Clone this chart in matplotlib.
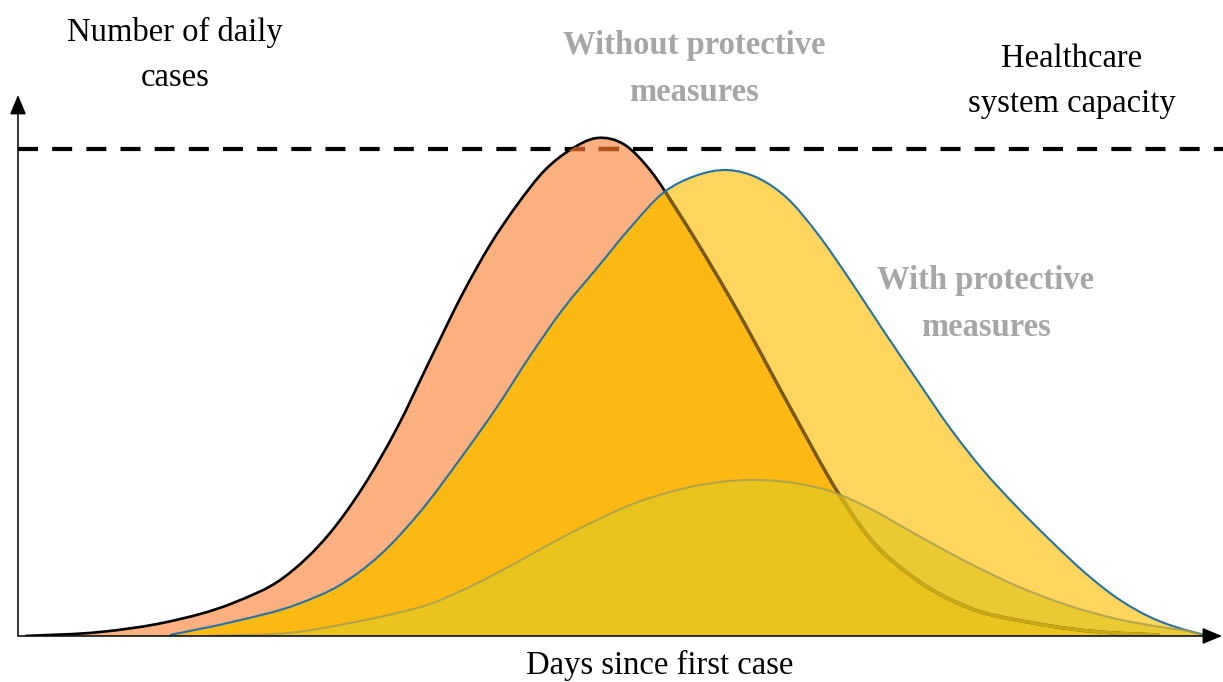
import numpy as np
import matplotlib
matplotlib.use("Agg")
import matplotlib.pyplot as plt
from matplotlib.path import Path
from matplotlib.patches import PathPatch

# curve without protective measures (days, daily cases)
no_days = [0.7, 8.2, 14.9, 21.5, 26.5, 31.2, 34.5, 37.9, 41.2, 44.5, 47.2, 49.9,
           52.7, 55.2, 57.9, 60.7, 63.2, 66.2, 71.5, 77.9, 81.9, 84.9, 89.9,
           94.9, 101.5, 108.2, 114.2]
no_cases = [0, 0.8, 2.8, 6.6, 11.6, 20.6, 29.8, 41.6, 55.2, 68.6, 78.2, 86.2,
            93.2, 97.2, 99.6, 98.2, 93.2, 84.2, 66.6, 43.2, 29.0, 20.2, 11.2,
            5.8, 2.6, 0.8, 0.2]

# curve with protective measures
with_days = [15.2, 21.4, 28.0, 32.2, 36.2, 40.2, 44.5, 47.9, 51.2, 54.5, 57.9, 61.2,
             64.5, 67.7, 70.9, 74.2, 76.9, 79.9, 83.2, 86.5, 89.9, 93.2, 96.5,
             99.9, 103.2, 106.5, 109.9, 113.2, 117.5, 119.2]
with_cases = [0.2, 2.8, 6.4, 10.2, 16.2, 24.8, 36.2, 45.8, 56.0, 65.4, 73.6, 81.6,
              88.6, 92.0, 93.2, 91.4, 87.6, 80.6, 71.2, 61.2, 51.2, 41.6, 33.2,
              25.8, 19.2, 13.0, 7.6, 3.8, 0.8, 0]

# flattened curve
flat_days = [18.9, 27.9, 33.2, 37.9, 41.2, 44.5, 47.9, 51.2, 54.5, 57.9, 61.2, 65.2,
             68.2, 72.9, 78.2, 81.5, 84.9, 89.9, 94.9, 99.9, 104.9, 109.9, 114.9,
             117.5, 118.7]
flat_cases = [0, 0.8, 2.6, 4.6, 6.4, 9.2, 12.6, 16.2, 19.8, 23.2, 26.2, 28.8,
              30.2, 31.2, 30.4, 28.8, 25.8, 20.2, 14.8, 10.0, 6.2, 3.4, 1.6,
              0.8, 0]

capacity = 97.4


def smooth_path(xs, ys, closed=False):
    # cubic Hermite through the points, written as Bezier segments
    x = np.asarray(xs, float)
    y = np.asarray(ys, float)
    h = np.diff(x)
    sec = np.diff(y) / h
    m = np.empty_like(y)
    m[0], m[-1] = sec[0], sec[-1]
    m[1:-1] = (sec[:-1] * h[1:] + sec[1:] * h[:-1]) / (h[:-1] + h[1:])
    verts = [(x[0], y[0])]
    codes = [Path.MOVETO]
    for i in range(len(x) - 1):
        d = h[i] / 3
        verts += [(x[i] + d, y[i] + m[i] * d), (x[i + 1] - d, y[i + 1] - m[i + 1] * d),
                  (x[i + 1], y[i + 1])]
        codes += [Path.CURVE4] * 3
    if closed:
        verts += [(x[-1], 0), (x[0], 0), (x[0], 0)]
        codes += [Path.LINETO, Path.LINETO, Path.CLOSEPOLY]
    return Path(verts, codes)


fig = plt.figure(figsize=(12.23, 6.82), dpi=100)
ax = fig.add_axes([18 / 1223, 46 / 682, 1205 / 1223, 636 / 682])
ax.set_xlim(0, 120.5)
ax.set_ylim(0, 127.2)
ax.set_axis_off()

area_no = smooth_path(no_days, no_cases, closed=True)
area_with = smooth_path(with_days, with_cases, closed=True)
area_flat = smooth_path(flat_days, flat_cases, closed=True)
line_no = smooth_path(no_days, no_cases)
line_with = smooth_path(with_days, with_cases)
line_flat = smooth_path(flat_days, flat_cases)

T = ax.transData

# fills
ax.add_patch(PathPatch(area_no, facecolor='#FCB07F', edgecolor='none', zorder=1))
ax.add_patch(PathPatch(area_with, facecolor='#FED65E', edgecolor='none', zorder=2))
p = PathPatch(area_with, facecolor='#FDB913', edgecolor='none', zorder=3)
ax.add_patch(p)
p.set_clip_path(area_no, T)
ax.add_patch(PathPatch(area_flat, facecolor='#E9C934', edgecolor='none', zorder=4))
p = PathPatch(area_flat, facecolor='#EAC41E', edgecolor='none', zorder=5)
ax.add_patch(p)
p.set_clip_path(area_no, T)

# outlines
ax.add_patch(PathPatch(line_no, facecolor='none', edgecolor='black', lw=1.9, zorder=6))
p = PathPatch(line_no, facecolor='none', edgecolor='#7A5A14', lw=2.4, zorder=7)
ax.add_patch(p)
p.set_clip_path(area_with, T)
p = PathPatch(line_no, facecolor='none', edgecolor='#C9AA16', lw=2.4, zorder=8)
ax.add_patch(p)
p.set_clip_path(area_flat, T)
ax.add_patch(PathPatch(line_with, facecolor='none', edgecolor='#2472A4', lw=1.5, zorder=9))
ax.add_patch(PathPatch(line_flat, facecolor='none', edgecolor='#A59C50', lw=1.5,
                       alpha=0.8, zorder=10))

# healthcare capacity
ax.plot([0, 120.5], [capacity, capacity], color='black', lw=3,
        dashes=(4.8, 3.4), zorder=11, dash_capstyle='butt')
cap2, = ax.plot([0, 120.5], [capacity, capacity], color='#B0521A', lw=3,
                dashes=(4.8, 3.4), zorder=12, dash_capstyle='butt')
cap2.set_clip_path(area_no, T)

# axes with arrows
arrow = dict(arrowstyle='-|>,head_length=0.6,head_width=0.25', color='black',
             lw=1.1, shrinkA=0, shrinkB=0, mutation_scale=20)
ax.annotate('', xy=(0, 108.2), xytext=(0, 0), arrowprops=arrow, zorder=13)
ax.annotate('', xy=(120.4, 0), xytext=(0, 0), arrowprops=arrow, zorder=13)

serif = ['Liberation Serif', 'DejaVu Serif']
fs = 23.5
ls = 1.63
fig.text(175 / 1223, 1 - 55 / 682, 'Number of daily\ncases', ha='center', va='center',
         fontsize=fs, family=serif, linespacing=ls)
fig.text(1072 / 1223, 1 - 81 / 682, 'Healthcare\nsystem capacity', ha='center', va='center',
         fontsize=fs, family=serif, linespacing=ls)
fig.text(694 / 1223, 1 - 69 / 682, 'Without protective\nmeasures', ha='center', va='center',
         fontsize=fs, family=serif, linespacing=ls, weight='bold', color='#A6A6A6')
fig.text(986 / 1223, 1 - 304 / 682, 'With protective\nmeasures', ha='center', va='center',
         fontsize=fs, family=serif, linespacing=ls, weight='bold', color='#A6A6A6')
fig.text(660 / 1223, 1 - 665 / 682, 'Days since first case', ha='center', va='center',
         fontsize=fs, family=serif)

fig.savefig('out.png', dpi=100, facecolor='white')
